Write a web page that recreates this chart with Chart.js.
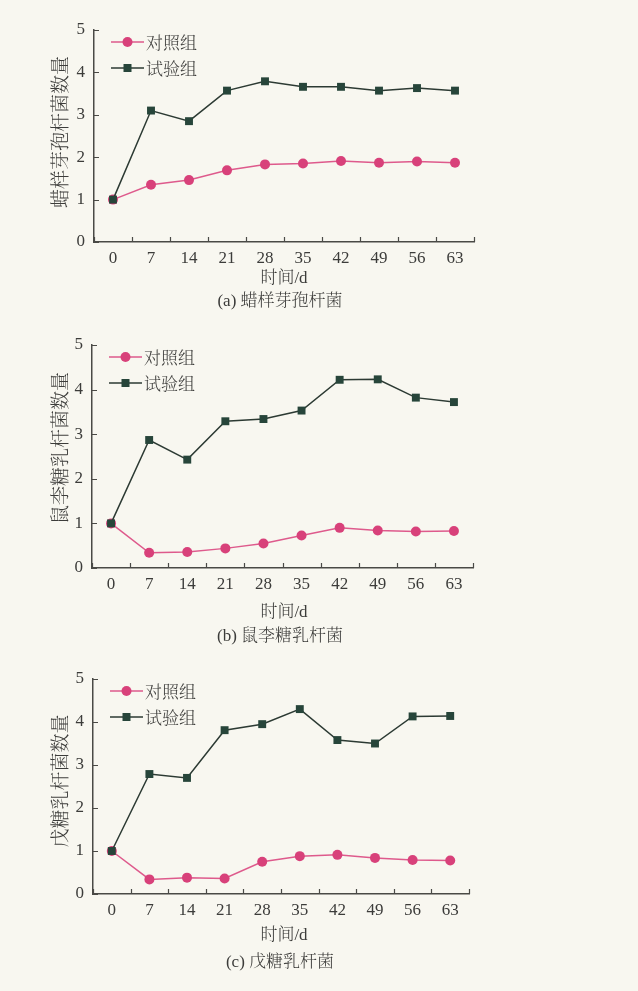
<!DOCTYPE html>
<html lang="zh">
<head>
<meta charset="utf-8">
<title>菌数量变化</title>
<script src="https://cdn.jsdelivr.net/npm/chart.js@4.4.0/dist/chart.umd.min.js"></script>
<style>
  html, body { margin: 0; padding: 0; }
  body { width: 638px; height: 991px; background: #f8f7f0; position: relative; overflow: hidden; }
  canvas { position: absolute; left: 0; }
</style>
</head>
<body>
<canvas id="panelA" width="638" height="320" style="top:0px"></canvas>
<canvas id="panelB" width="638" height="330" style="top:320px"></canvas>
<canvas id="panelC" width="638" height="341" style="top:650px"></canvas>
<script>
// sampling days (d)
const days = ['0', '7', '14', '21', '28', '35', '42', '49', '56', '63'];
const yTickValues = [0, 1, 2, 3, 4, 5];
const seriesNames = ['对照组', '试验组'];

// (a) 蜡样芽孢杆菌
const ceresControl = [1.00, 1.35, 1.46, 1.69, 1.83, 1.85, 1.91, 1.87, 1.90, 1.87];
const ceresTest    = [1.00, 3.10, 2.85, 3.57, 3.79, 3.66, 3.66, 3.57, 3.63, 3.57];

// (b) 鼠李糖乳杆菌
const rhamnosusControl = [1.00, 0.34, 0.36, 0.44, 0.55, 0.73, 0.90, 0.84, 0.82, 0.83];
const rhamnosusTest    = [1.00, 2.87, 2.43, 3.29, 3.34, 3.53, 4.22, 4.23, 3.82, 3.72];

// (c) 戊糖乳杆菌
const pentosusControl = [1.00, 0.34, 0.38, 0.36, 0.75, 0.88, 0.91, 0.84, 0.79, 0.78];
const pentosusTest    = [1.00, 2.79, 2.70, 3.81, 3.95, 4.30, 3.58, 3.50, 4.13, 4.14];

const xTitle = '时间/d';

const TEXT = '#3c3c3a';
const AXIS = '#4a4a46';
const PINK_LINE = '#de5a8c';
const PINK_PT = '#d8417a';
const GREEN_LINE = '#2c3a33';
const GREEN_PT = '#27453a';
const NUM_FONT = '"Liberation Serif", "Noto Serif CJK SC", "Noto Sans CJK SC", serif';
const CJK_FONT = '"Noto Serif CJK SC", "Noto Sans CJK SC", sans-serif';

// panel geometry (canvas pixels)
const panels = [
  { id: 'panelA', control: ceresControl, test: ceresTest,
    yTitle: '蜡样芽孢杆菌数量', caption: '(a) 蜡样芽孢杆菌',
    area: { left: 94, right: 474, top: 30, bottom: 242 },
    yTitleY: 132, xTitleDy: 37, captionDy: 60 },
  { id: 'panelB', control: rhamnosusControl, test: rhamnosusTest,
    yTitle: '鼠李糖乳杆菌数量', caption: '(b) 鼠李糖乳杆菌',
    area: { left: 92, right: 473, top: 25, bottom: 248 },
    yTitleY: 128, xTitleDy: 45, captionDy: 69 },
  { id: 'panelC', control: pentosusControl, test: pentosusTest,
    yTitle: '戊糖乳杆菌数量', caption: '(c) 戊糖乳杆菌',
    area: { left: 93, right: 469, top: 29, bottom: 244 },
    yTitleY: 131, xTitleDy: 42, captionDy: 69 }
];

// inward tick marks on both axes
const innerTicks = {
  id: 'innerTicks',
  afterDraw(chart) {
    const { ctx, scales: { x, y } } = chart;
    ctx.save();
    ctx.strokeStyle = AXIS;
    ctx.lineWidth = 1.2;
    ctx.beginPath();
    y.ticks.forEach((t, i) => {
      const py = Math.round(y.getPixelForTick(i)) + 0.5;
      ctx.moveTo(x.left, py);
      ctx.lineTo(x.left + 5, py);
    });
    for (let i = 0; i <= days.length; i++) {
      const px = Math.round(x.getPixelForValue(i - 0.5)) + 0.5;
      ctx.moveTo(px, y.bottom);
      ctx.lineTo(px, y.bottom - 5);
    }
    ctx.stroke();
    ctx.restore();
  }
};

function drawMarker(ctx, style, cx, cy, color) {
  ctx.fillStyle = color;
  ctx.beginPath();
  if (style === 'circle') {
    ctx.arc(cx, cy, 5, 0, Math.PI * 2);
  } else {
    ctx.rect(cx - 4, cy - 4, 8, 8);
  }
  ctx.fill();
}

// legend with line + marker, titles and caption
const decorations = {
  id: 'decorations',
  afterDraw(chart, args, opts) {
    const { ctx, chartArea: a } = chart;
    ctx.save();
    // legend
    const rows = [
      { ds: chart.data.datasets.find(d => d.label === seriesNames[0]), dy: 12 },
      { ds: chart.data.datasets.find(d => d.label === seriesNames[1]), dy: 38 }
    ];
    rows.forEach(r => {
      const y = a.top + r.dy;
      const x0 = a.left + 17, x1 = a.left + 50;
      ctx.strokeStyle = r.ds.borderColor;
      ctx.lineWidth = 1.6;
      ctx.beginPath();
      ctx.moveTo(x0, y);
      ctx.lineTo(x1, y);
      ctx.stroke();
      drawMarker(ctx, r.ds.pointStyle, (x0 + x1) / 2, y, r.ds.pointBackgroundColor);
      ctx.fillStyle = TEXT;
      ctx.font = '300 17px ' + CJK_FONT;
      ctx.textAlign = 'left';
      ctx.textBaseline = 'middle';
      ctx.fillText(r.ds.label, x1 + 2, y + 1);
    });
    // y axis title
    ctx.save();
    ctx.translate(60, opts.yTitleY);
    ctx.rotate(-Math.PI / 2);
    ctx.font = '300 19px ' + CJK_FONT;
    ctx.textAlign = 'center';
    ctx.textBaseline = 'middle';
    ctx.fillStyle = TEXT;
    ctx.fillText(opts.yTitle, 0, 0);
    ctx.restore();
    // x axis title and caption
    ctx.fillStyle = TEXT;
    ctx.textAlign = 'center';
    ctx.textBaseline = 'middle';
    ctx.font = '300 17px ' + NUM_FONT;
    ctx.fillText(xTitle, 284, a.bottom + opts.xTitleDy);
    ctx.fillText(opts.caption, 280, a.bottom + opts.captionDy);
    ctx.restore();
  }
};

panels.forEach(p => {
  const canvas = document.getElementById(p.id);
  const W = canvas.width, H = canvas.height;
  const yScaleWidth = 40, xScaleHeight = 40;
  new Chart(canvas, {
    type: 'line',
    data: {
      labels: days,
      datasets: [
        { label: seriesNames[1], data: p.test, order: 0,
          borderColor: GREEN_LINE, borderWidth: 1.5,
          pointStyle: 'rect', pointRadius: 5.6, pointHoverRadius: 5.6,
          pointBackgroundColor: GREEN_PT, pointBorderColor: GREEN_PT, pointBorderWidth: 0,
          tension: 0, clip: false },
        { label: seriesNames[0], data: p.control, order: 1,
          borderColor: PINK_LINE, borderWidth: 1.5,
          pointStyle: 'circle', pointRadius: 5, pointHoverRadius: 5,
          pointBackgroundColor: PINK_PT, pointBorderColor: PINK_PT, pointBorderWidth: 0,
          tension: 0, clip: false }
      ]
    },
    options: {
      responsive: false,
      animation: false,
      events: [],
      layout: {
        padding: {
          left: p.area.left - yScaleWidth,
          right: W - p.area.right,
          top: p.area.top,
          bottom: H - p.area.bottom - xScaleHeight
        }
      },
      plugins: {
        legend: { display: false },
        tooltip: { enabled: false },
        decorations: { yTitle: p.yTitle, caption: p.caption, yTitleY: p.yTitleY,
                       xTitleDy: p.xTitleDy, captionDy: p.captionDy }
      },
      scales: {
        x: {
          type: 'category',
          offset: true,
          grid: { display: false, drawTicks: false },
          border: { display: true, color: AXIS, width: 1.5 },
          ticks: { color: TEXT, font: { family: NUM_FONT, size: 17 }, padding: 6, maxRotation: 0, autoSkip: false },
          afterFit(scale) { scale.height = xScaleHeight; }
        },
        y: {
          type: 'linear',
          min: yTickValues[0],
          max: yTickValues[yTickValues.length - 1],
          grid: { display: false, drawTicks: false },
          border: { display: true, color: AXIS, width: 1.5 },
          ticks: {
            stepSize: yTickValues[1] - yTickValues[0],
            color: TEXT,
            font: { family: NUM_FONT, size: 17 },
            padding: 9,
            callback: (v) => String(v)
          },
          afterFit(scale) { scale.width = yScaleWidth; }
        }
      }
    },
    plugins: [innerTicks, decorations]
  });
});
</script>
</body>
</html>
